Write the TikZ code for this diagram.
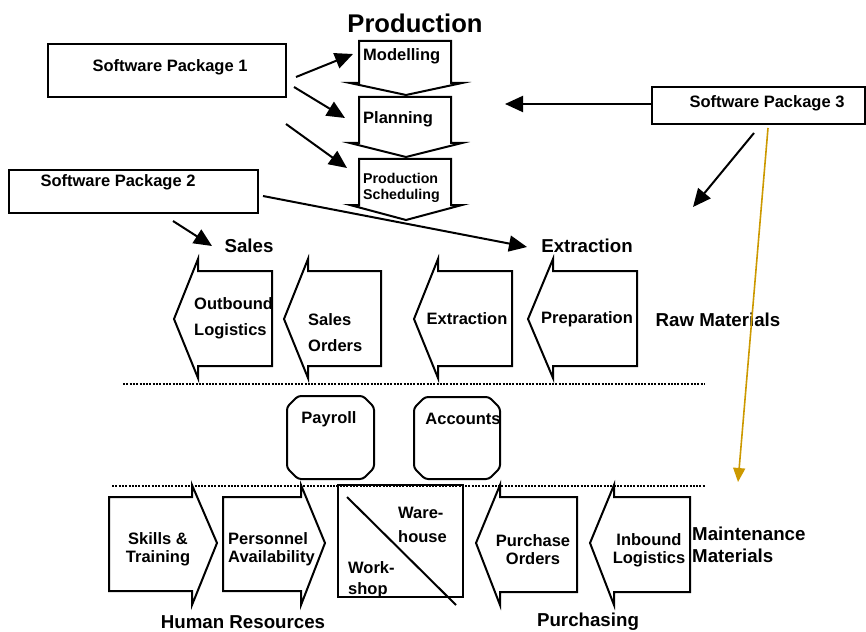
\documentclass[tikz,border=0pt]{standalone}
\usepackage{fontspec}
\setmainfont{Liberation Sans}
\usetikzlibrary{arrows.meta}
\definecolor{gold}{RGB}{204,153,0}
\begin{document}
\begin{tikzpicture}[x=1pt,y=-1pt,
  blk/.style={draw, line width=2pt, fill=white, line join=miter},
  swbox/.style={draw, line width=2pt, fill=white, inner sep=0},
  txt/.style={font=\fontsize{16.5}{26}\selectfont\bfseries, inner sep=0},
  txtb/.style={font=\fontsize{16.5}{18}\selectfont\bfseries, inner sep=0},
  small/.style={font=\fontsize{14.2}{16}\selectfont\bfseries, inner sep=0},
  lbl/.style={font=\fontsize{18.7}{22}\selectfont\bfseries, inner sep=0},
  con/.style={line width=2pt, -{Triangle[length=18pt,width=16pt]}},
  gcon/.style={line width=1.6pt, draw=gold, -{Triangle[length=14pt,width=12pt]}},
  dotline/.style={line width=2pt, dash pattern=on 2pt off 1.3pt}
]
\useasboundingbox (0,0) rectangle (866,631);

% title
\node[font=\fontsize{25.6}{30}\selectfont\bfseries, inner sep=0] (title) at (415,23) {Production};

% software packages
\node[swbox, minimum width=238pt, minimum height=53pt] (sp1) at (167,70.5) {};
\node[txt] (sp1t) at (170,67) {Software Package 1};
\node[swbox, minimum width=249pt, minimum height=43pt] (sp2) at (133.5,191.5) {};
\node[txt] (sp2t) at (118,182) {Software Package 2};
\node[swbox, minimum width=213pt, minimum height=37pt] (sp3) at (758,105.5) {};
\node[txt] (sp3t) at (767,103) {Software Package 3};

% production down arrows
\draw[blk] (359,41) -- (451,41) -- (451,83) -- (462,83) -- (406,95) -- (350,83) -- (359,83) -- cycle;
\node[txt, anchor=west] (model) at (363,56) {Modelling};
\draw[blk] (359,97) -- (451,97) -- (451,143) -- (462,143) -- (406,157) -- (350,143) -- (359,143) -- cycle;
\node[txt, anchor=west] (plan) at (363,119) {Planning};
\draw[blk] (359,159) -- (451,159) -- (451,205) -- (462,205) -- (406,220) -- (350,205) -- (359,205) -- cycle;
\node[small, anchor=west, align=left] (sched) at (363,188) {Production\\Scheduling};

% top row left-pointing blocks
\draw[blk] (272,271) -- (198,271) -- (198,259) -- (174,319) -- (198,378) -- (198,366) -- (272,366) -- cycle;
\draw[blk] (381,271) -- (308,271) -- (308,259) -- (284,319) -- (308,378) -- (308,366) -- (381,366) -- cycle;
\draw[blk] (512,271) -- (438,271) -- (438,259) -- (414,319) -- (438,378) -- (438,366) -- (512,366) -- cycle;
\draw[blk] (637,271) -- (553,271) -- (553,259) -- (528,319) -- (553,378) -- (553,366) -- (637,366) -- cycle;
\node[txt, anchor=west, align=left] (outb) at (194,318) {Outbound\\Logistics};
\node[txt, anchor=west, align=left] (sord) at (308,332.5) {Sales\\Orders};
\node[txt] (extr) at (467,319) {Extraction};
\node[txt] (prep) at (587,319) {Preparation};

% section labels
\node[lbl] (sales) at (249,246) {Sales};
\node[lbl] (extrl) at (587,246) {Extraction};
\node[lbl] (raw) at (718,320) {Raw Materials};
\node[lbl, anchor=west, align=left] (maint) at (692,545) {Maintenance\\Materials};
\node[lbl] (hr) at (243,622) {Human Resources};
\node[lbl] (purch) at (588,622) {Purchasing};

% dotted separators
\coordinate (d1a) at (123,384); \coordinate (d1b) at (705,384);
\coordinate (d2a) at (112,486); \coordinate (d2b) at (705,486);
\draw[dotline] (d1a) -- (d1b);
\draw[dotline] (d2a) -- (d2b);

% payroll / accounts
\draw[line width=2pt, rounded corners=3pt] (298,396) -- (363,396) -- (374,407) -- (374,468) -- (363,479) -- (298,479) -- (287,468) -- (287,407) -- cycle;
\node[txt] (payroll) at (329,419) {Payroll};
\draw[line width=2pt, rounded corners=3pt] (425,397) -- (489,397) -- (500,408) -- (500,468) -- (489,479) -- (425,479) -- (414,468) -- (414,408) -- cycle;
\node[txt] (accounts) at (463,419) {Accounts};

% bottom row
\draw[blk] (109,497) -- (192,497) -- (192,485) -- (217,543) -- (192,605) -- (192,591) -- (109,591) -- cycle;
\node[txtb, align=center] (skills) at (158,549) {Skills \&\\Training};
\draw[blk] (223,497) -- (301,497) -- (301,485) -- (325,543) -- (301,605) -- (301,591) -- (223,591) -- cycle;
\node[txtb, anchor=west, align=left] (pers) at (228,549) {Personnel\\Availability};

\node[draw, line width=2pt, minimum width=125pt, minimum height=112pt, inner sep=0] (store) at (400.5,541) {};
\coordinate (diagA) at (347,497); \coordinate (diagB) at (456,605);
\draw[line width=2pt] (diagA) -- (diagB);
\node[font=\fontsize{16.5}{24}\selectfont\bfseries, inner sep=0, anchor=west, align=left] (ware) at (398,525) {Ware-\\house};
\node[font=\fontsize{16.5}{21}\selectfont\bfseries, inner sep=0, anchor=west, align=left] (work) at (348,580) {Work-\\shop};

\draw[blk] (577,497) -- (500,497) -- (500,485) -- (476,543) -- (500,605) -- (500,592) -- (577,592) -- cycle;
\node[txtb, align=center] (pord) at (533,550) {Purchase\\Orders};
\draw[blk] (690,497) -- (614,497) -- (614,485) -- (590,543) -- (614,605) -- (614,592) -- (690,592) -- cycle;
\node[txtb, align=center] (inb) at (649,550) {Inbound\\Logistics};

% connectors
\coordinate (a1s) at (296,77);  \coordinate (a1e) at (353,54);
\coordinate (a2s) at (294,87);  \coordinate (a2e) at (345,118);
\coordinate (a3s) at (286,124); \coordinate (a3e) at (347,168);
\draw[con] (a1s) -- (a1e);
\draw[con] (a2s) -- (a2e);
\draw[con] (a3s) -- (a3e);
\coordinate (b1s) at (263,196); \coordinate (b1e) at (527,247);
\coordinate (b2s) at (173,221); \coordinate (b2e) at (212,246);
\draw[con] (b1s) -- (b1e);
\draw[con] (b2s) -- (b2e);
\coordinate (c1s) at (651,104); \coordinate (c1e) at (505,104);
\coordinate (c2s) at (754,133); \coordinate (c2e) at (693,207);
\coordinate (c3s) at (768,128); \coordinate (c3e) at (738,482);
\draw[con] (c1s) -- (c1e);
\draw[con] (c2s) -- (c2e);
\draw[gcon] (c3s) -- (c3e);
\end{tikzpicture}
\end{document}
